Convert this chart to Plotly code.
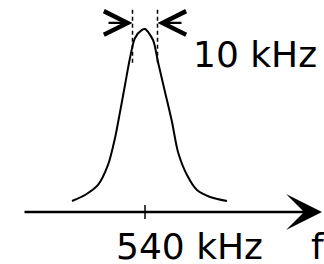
import plotly.graph_objects as go

# Spectrum curve (frequency in kHz, relative amplitude)
freq_khz = [510.8, 516.0, 521.2, 525.2, 528.0, 530.0, 532.0, 534.0, 536.0, 538.8, 540.0,
            543.2, 545.2, 548.0, 550.8, 553.2, 556.8, 560.8, 566.0, 572.8]
amplitude = [0.060, 0.093, 0.148, 0.257, 0.404, 0.546, 0.694, 0.842, 0.951, 0.995, 1.0,
             0.940, 0.820, 0.656, 0.492, 0.328, 0.202, 0.120, 0.082, 0.060]

center_khz = 540
bandwidth_khz = 10
axis_start_khz = 491.2
axis_end_khz = 610.8
width_label = "10 kHz"
center_label = "540 kHz"
axis_label = "f"

lo = center_khz - bandwidth_khz / 2
hi = center_khz + bandwidth_khz / 2

FONT = dict(family="DejaVu Sans", size=36, color="black")

fig = go.Figure()

# curve
fig.add_trace(go.Scatter(x=freq_khz, y=amplitude, mode="lines",
                         line=dict(color="black", width=2, shape="spline", smoothing=0.8),
                         hoverinfo="skip", showlegend=False))

# dashed bandwidth markers
for fx in (lo, hi):
    fig.add_shape(type="line", x0=fx, x1=fx, y0=0.815, y1=1.12, xref="x", yref="y",
                  line=dict(color="black", width=1.5, dash="4px,3px"))

# tick at centre frequency
fig.add_shape(type="line", x0=center_khz, x1=center_khz, y0=-0.038, y1=0.038,
              xref="x", yref="y", line=dict(color="black", width=1.5))

# frequency axis arrow
fig.add_annotation(x=axis_end_khz, y=0, ax=axis_start_khz, ay=0, xref="x", yref="y",
                   axref="x", ayref="y", text="", showarrow=True, arrowhead=3,
                   arrowsize=2.4, arrowwidth=2.5, arrowcolor="black")

# bandwidth arrows
fig.add_annotation(x=lo, y=1.033, ax=lo - 10.2, ay=1.033, xref="x", yref="y",
                   axref="x", ayref="y", text="", showarrow=True, arrowhead=5,
                   arrowsize=2.1, arrowwidth=2.2, arrowcolor="black")
fig.add_annotation(x=hi, y=1.033, ax=hi + 10.2, ay=1.033, xref="x", yref="y",
                   axref="x", ayref="y", text="", showarrow=True, arrowhead=5,
                   arrowsize=2.1, arrowwidth=2.2, arrowcolor="black")

# labels
fig.add_annotation(x=583.8, y=0.858, text=width_label, showarrow=False,
                   xanchor="center", yanchor="middle", font=FONT)
fig.add_annotation(x=557.6, y=-0.19, text=center_label, showarrow=False,
                   xanchor="center", yanchor="middle", font=FONT)
fig.add_annotation(x=609.2, y=-0.19, text=axis_label, showarrow=False,
                   xanchor="center", yanchor="middle", font=FONT)

fig.update_layout(
    width=324, height=264,
    margin=dict(l=0, r=0, t=0, b=0),
    paper_bgcolor="white", plot_bgcolor="white",
    xaxis=dict(range=[482.0, 611.6], visible=False, fixedrange=True),
    yaxis=dict(range=[-0.2842, 1.1585], visible=False, fixedrange=True),
    showlegend=False,
)

fig.write_html("out.html", config={"displayModeBar": False},
               post_script="document.body.style.margin='0';document.body.style.overflow='hidden';")
